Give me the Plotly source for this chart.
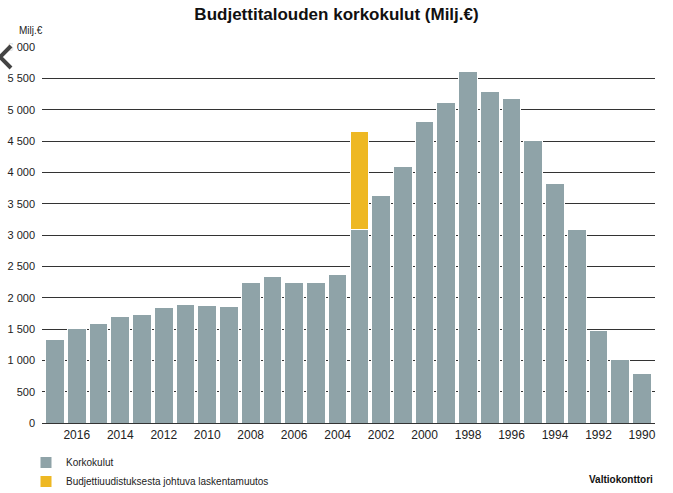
import plotly.graph_objects as go

years = list(range(2017, 1989, -1))
korkokulut = [1335, 1505, 1585, 1702, 1729, 1851, 1899, 1883, 1862, 2239, 2330, 2250, 2250, 2375,
              3082, 3624, 4091, 4809, 5117, 5606, 5292, 5175, 4516, 3826, 3082, 1472, 1010, 797]
muutos = [0] * len(years)
muutos[years.index(2003)] = 4655 - 3082
tick_years = list(range(2016, 1989, -2))
y_ticks = list(range(0, 6001, 500))

gray = "#8fa3a8"
yellow = "#eeb823"

fig = go.Figure()
fig.add_trace(go.Bar(x=years, y=korkokulut, name="Korkokulut",
                     marker=dict(color=gray, line=dict(color="white", width=1))))
fig.add_trace(go.Bar(x=years, y=muutos, name="Budjettiuudistuksesta johtuva laskentamuutos",
                     marker=dict(color=yellow, line=dict(color="white", width=1))))


def px(xp):
    return (xp - 42) / 613


def py(yp):
    return (423 - yp) / 376


font = "Liberation Sans, Arial, sans-serif"
fig.update_layout(
    width=673, height=493,
    margin=dict(l=42, r=18, t=47, b=70, autoexpand=False),
    barmode="stack", bargap=0.14,
    plot_bgcolor="white", paper_bgcolor="white",
    separators=", ",
    font=dict(family=font, size=11, color="#222"),
    title=dict(text="<b>Budjettitalouden korkokulut (Milj.€)</b>", x=0.5, xanchor="center",
               y=1 - 14 / 493, yanchor="middle", font=dict(size=17, color="#111")),
    xaxis=dict(range=[2017.6, 1989.4], tickvals=tick_years, ticktext=[str(t) for t in tick_years],
               showgrid=False, zeroline=False, showline=False, ticks="",
               tickfont=dict(size=12, color="#222"), ticklabelstandoff=3),
    yaxis=dict(range=[0, 6000], tickvals=y_ticks, tickformat=",d", showgrid=True,
               gridcolor="#333", gridwidth=1.2, zeroline=True, zerolinecolor="#333",
               zerolinewidth=1.2, ticks="", tickfont=dict(size=11, color="#222"),
               ticklabelstandoff=6),
    legend=dict(orientation="v", xref="container", yref="container",
                x=26 / 673, xanchor="left", y=1 - 448 / 493, yanchor="top",
                traceorder="normal", font=dict(size=10, color="#222"), itemwidth=30,
                bgcolor="rgba(0,0,0,0)", tracegroupgap=0),
    showlegend=True,
    annotations=[
        dict(text="Milj.€", x=-0.04, y=1.045, xref="paper", yref="paper", xanchor="left",
             yanchor="middle", showarrow=False, font=dict(size=10, color="#222")),
        dict(text="<b>Valtiokonttori</b>", x=1.0, y=-0.15, xref="paper", yref="paper",
             xanchor="right", yanchor="middle", showarrow=False, font=dict(size=10, color="#111")),
    ],
    shapes=[
        dict(type="circle", xref="paper", yref="paper", layer="above",
             x0=px(-16), x1=px(20), y0=py(76), y1=py(40),
             fillcolor="rgba(255,255,255,0.85)", line=dict(width=0)),
        dict(type="path", xref="paper", yref="paper", layer="above",
             path=f"M {px(11)} {py(46)} L {px(0)} {py(57)} L {px(11)} {py(68)}",
             line=dict(color="#444", width=4)),
    ],
)

fig.write_html("out.html")
